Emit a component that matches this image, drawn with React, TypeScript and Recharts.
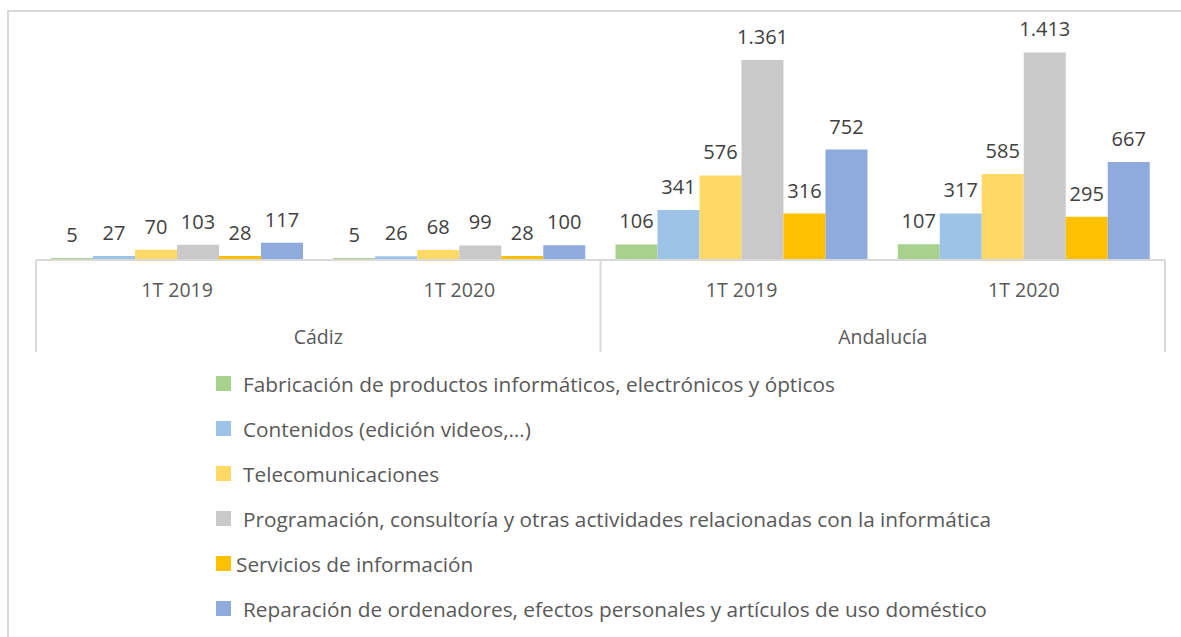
import { Bar, BarChart, LabelList, XAxis, YAxis } from "recharts";

const periods = ["1T 2019", "1T 2020", "1T 2019", "1T 2020"];
const regions = ["Cádiz", "Andalucía"];

const fabricacion = [5, 5, 106, 107];
const contenidos = [27, 26, 341, 317];
const telecom = [70, 68, 576, 585];
const programacion = [103, 99, 1361, 1413];
const servicios = [28, 28, 316, 295];
const reparacion = [117, 100, 752, 667];

const series = [
  { key: "fab", name: "Fabricación de productos informáticos, electrónicos y ópticos", color: "#a9d18e", values: fabricacion, gap: 12 },
  { key: "con", name: "Contenidos (edición videos,…)", color: "#9dc3e6", values: contenidos, gap: 12 },
  { key: "tel", name: "Telecomunicaciones", color: "#ffd966", values: telecom, gap: 12 },
  { key: "pro", name: "Programación, consultoría y otras actividades relacionadas con la informática", color: "#c9c9c9", values: programacion, gap: 12 },
  { key: "ser", name: "Servicios de información", color: "#ffc000", values: servicios, gap: 5 },
  { key: "rep", name: "Reparación de ordenadores, efectos personales y artículos de uso doméstico", color: "#8faadc", values: reparacion, gap: 12 },
];

const data = periods.map((p, i) => {
  const row: Record<string, string | number> = { period: p, idx: i };
  series.forEach((s) => (row[s.key] = s.values[i]));
  return row;
});

const FONT = "'Open Sans', sans-serif";

function fmt(v: number) {
  return String(v).replace(/\B(?=(\d{3})+(?!\d))/g, ".");
}

const BAND = (1165 - 36) / periods.length;

function Tick(props: any) {
  const { x, y, payload, index } = props;
  const half = BAND / 2;
  return (
    <g>
      <text x={x} y={y + 37} textAnchor="middle" fill="#595959" fontSize={19.5} fontFamily={FONT}>
        {payload.value}
      </text>
      {index % 2 === 0 && (
        <>
          <line x1={x - half} x2={x - half} y1={y} y2={y + 92} stroke="#d9d9d9" strokeWidth={2} />
          <text x={x + half} y={y + 84} textAnchor="middle" fill="#595959" fontSize={19.5} fontFamily={FONT}>
            {regions[index / 2]}
          </text>
        </>
      )}
      {index === periods.length - 1 && (
        <line x1={x + half} x2={x + half} y1={y} y2={y + 92} stroke="#d9d9d9" strokeWidth={2} />
      )}
    </g>
  );
}

export default function App() {
  return (
    <div style={{ position: "absolute", left: 0, top: 0, width: 1181, height: 637, overflow: "hidden", background: "#fff" }}>
      <div
        style={{
          position: "absolute",
          left: 7,
          top: 10,
          width: 1200,
          height: 700,
          borderLeft: "2px solid #d9d9d9",
          borderTop: "2px solid #d9d9d9",
        }}
      />
      <div style={{ position: "absolute", left: 0, top: 0 }}>
        <BarChart
          width={1181}
          height={360}
          data={data}
          margin={{ top: 25, right: 16, left: 36, bottom: 0 }}
          barCategoryGap={15}
          barGap={0}
        >
          <XAxis
            dataKey="period"
            interval={0}
            height={100}
            tickLine={false}
            tickSize={0}
            tickMargin={0}
            stroke="#d9d9d9"
            strokeWidth={2}
            tick={<Tick />}
          />
          <YAxis hide domain={[0, 1600]} />
          {series.map((s) => (
            <Bar key={s.key} dataKey={s.key} name={s.name} fill={s.color} minPointSize={2} isAnimationActive={false}>
              <LabelList
                dataKey={s.key}
                position="top"
                offset={16}
                formatter={(v: any) => fmt(Number(v))}
                fill="#404040"
                fontSize={20}
                fontFamily={FONT}
              />
            </Bar>
          ))}
        </BarChart>
      </div>
      <div style={{ position: "absolute", left: 216, top: 361, fontFamily: FONT, fontSize: 20.8, color: "#595959" }}>
        {series.map((s) => (
          <div key={s.key} style={{ height: 45, display: "flex", alignItems: "center", whiteSpace: "nowrap" }}>
            <span style={{ width: 15, height: 15, background: s.color, display: "inline-block", flex: "none", marginRight: s.gap }} />
            <span>{s.name}</span>
          </div>
        ))}
      </div>
    </div>
  );
}
